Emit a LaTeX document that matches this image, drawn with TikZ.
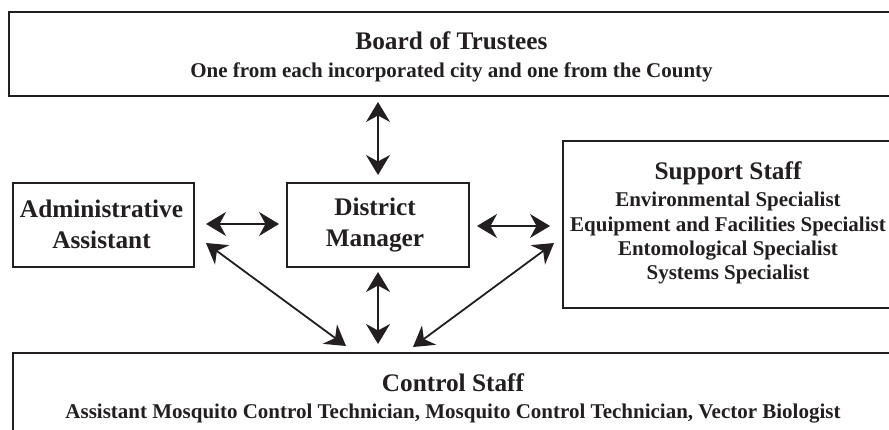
\documentclass[tikz,border=0pt]{standalone}
\usepackage{fontspec}
\setmainfont{Liberation Serif}
\usetikzlibrary{arrows.meta,calc}
\definecolor{ink}{HTML}{231F20}
\begin{document}
\begin{tikzpicture}[x=1pt,y=-1pt,
  box/.style={draw=ink, line width=2pt, rectangle, inner sep=0pt, anchor=north west},
  head/.style={text=ink, anchor=base, align=center, inner sep=0pt,
    font=\fontsize{25.3}{31}\selectfont\bfseries},
  detail/.style={text=ink, anchor=base, align=center, inner sep=0pt,
    font=\fontsize{21}{24.4}\selectfont\bfseries},
  arr/.style={draw=ink, line width=1.8pt,
    {Stealth[length=20pt,width=24pt,inset=6.5pt]}-{Stealth[length=20pt,width=24pt,inset=6.5pt]}}
]
\useasboundingbox (0,0) rectangle (889,430);

% boxes
\node[box, minimum width=890pt, minimum height=84pt]  (board)   at (8,11)    {};
\node[box, minimum width=181pt, minimum height=84pt]  (admin)   at (12,182)  {};
\node[box, minimum width=182pt, minimum height=84pt]  (dm)      at (286,182) {};
\node[box, minimum width=335pt, minimum height=167pt] (support) at (562,140) {};
\node[box, minimum width=890pt, minimum height=100pt] (control) at (12,352)  {};

% texts (anchored on the baseline of their last line)
\node[head]   (boardtitle)   at (451.5,50) {Board of Trustees};
\node[detail] (boardsub)     at (451.5,78) {One from each incorporated city and one from the County};
\node[head]   (admintext)    at (101.5,249) {Administrative\\Assistant};
\node[head]   (dmtext)       at (375,247) {District\\Manager};
\node[head]   (supporttitle) at (728,180) {Support Staff};
\node[detail] (supportlist)  at (728,280) {Environmental Specialist\\Equipment and Facilities Specialist\\Entomological Specialist\\Systems Specialist};
\node[head]   (controltitle) at (453,391) {Control Staff};
\node[detail] (controlsub)   at (453,418) {Assistant Mosquito Control Technician, Mosquito Control Technician, Vector Biologist};

% connectors
\coordinate (topmid) at (dm.north |- board.south);
\coordinate (botmid) at (dm.south |- control.north);
\draw[arr] ([shift={(0,5)}]topmid) -- ([shift={(0,-7)}]dm.north);
\draw[arr] ([shift={(0,4)}]dm.south) -- ([shift={(0,-8)}]botmid);
\draw[arr] ([shift={(11,-1)}]admin.east) -- ([shift={(-7,-1)}]dm.west);
\draw[arr] ([shift={(7,1)}]dm.east) -- ([shift={(-12,1.5)}]support.west);
\draw[arr] ([shift={(11,18)}]admin.east) -- ([shift={(-32,-6)}]botmid);
\draw[arr] ([shift={(-8,18.5)}]support.west) -- ([shift={(35,-5)}]botmid);
\end{tikzpicture}
\end{document}
